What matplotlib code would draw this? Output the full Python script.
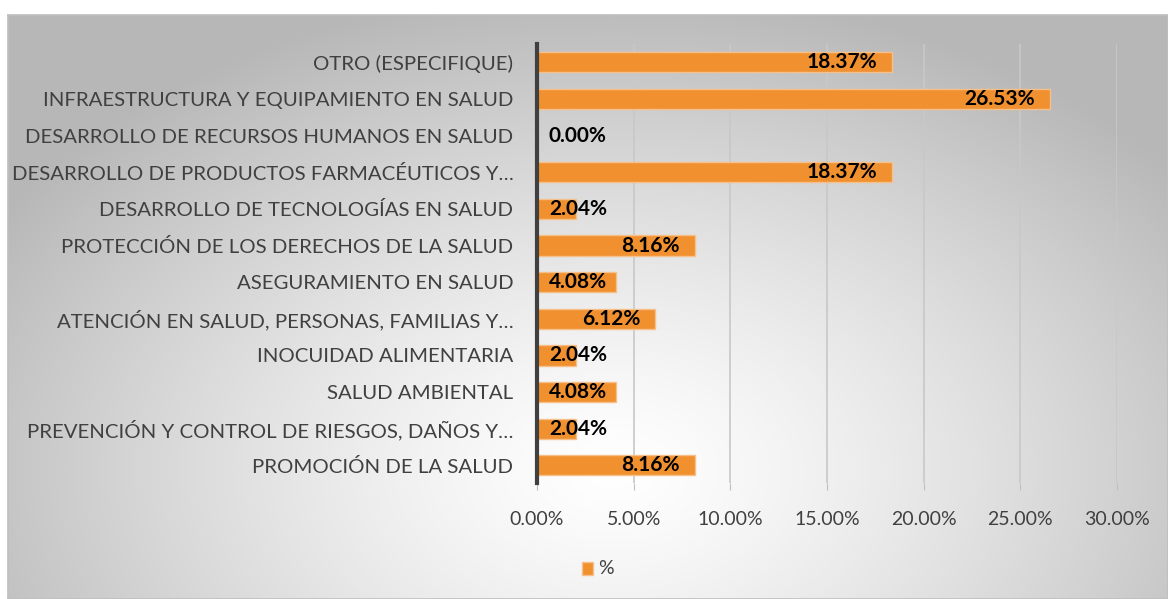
import numpy as np
import matplotlib.pyplot as plt

categorias = ['PROMOCIÓN DE LA SALUD',
              'PREVENCIÓN Y CONTROL DE RIESGOS, DAÑOS Y…',
              'SALUD AMBIENTAL',
              'INOCUIDAD ALIMENTARIA',
              'ATENCIÓN EN SALUD, PERSONAS, FAMILIAS Y…',
              'ASEGURAMIENTO EN SALUD',
              'PROTECCIÓN DE LOS DERECHOS DE LA SALUD',
              'DESARROLLO DE TECNOLOGÍAS EN SALUD',
              'DESARROLLO DE PRODUCTOS FARMACÉUTICOS Y…',
              'DESARROLLO DE RECURSOS HUMANOS EN SALUD',
              'INFRAESTRUCTURA Y EQUIPAMIENTO EN SALUD',
              'OTRO (ESPECIFIQUE)']
valores = [8.16, 2.04, 4.08, 2.04, 6.12, 4.08, 8.16, 2.04, 18.37, 0.00, 26.53, 18.37]
xticks = [0, 5, 10, 15, 20, 25, 30]

plt.rcParams['font.family'] = ['Lato', 'DejaVu Sans']

W, H = 1168, 599
fig = plt.figure(figsize=(W/100, H/100), dpi=100)

# fondo con degradado radial
bg = fig.add_axes([8/W, 0, 1-8/W, 1-15/H])
yy, xx = np.mgrid[0:1:300j, 0:1:600j]
r = np.sqrt(((xx-0.52)*1.0)**2 + ((yy-0.78)*0.75)**2)
g = 1.0 - 0.28*np.clip(r/0.62, 0, 1)**1.3
bg.imshow(np.dstack([g, g, g]), extent=[0, 1, 0, 1], aspect='auto', origin='upper')
bg.set_xticks([]); bg.set_yticks([])
for s in bg.spines.values():
    s.set_color('#bfbfbf')
    s.set_linewidth(1.2)

ax = fig.add_axes([537/W, 1-483/H, (1117-537)/W, (483-44)/H])
ax.patch.set_alpha(0)
y = np.arange(len(categorias))
ax.barh(y, valores, height=0.55, color='#F0902E', edgecolor='#F7C08A', linewidth=1, zorder=3)
ax.set_xlim(0, 30)
ax.set_ylim(-0.48, 11.5)
ax.set_yticks(y)
ax.set_yticklabels(categorias, fontsize=14.7, color='#404040')
ax.set_xticks(xticks)
ax.set_xticklabels(['%.2f%%' % t for t in xticks], fontsize=14, color='#404040')
ax.tick_params(axis='y', length=0, pad=17)
ax.tick_params(axis='x', length=5, color='#bfbfbf', pad=15)
ax.grid(axis='x', color='#c8c8c8', linewidth=1.2, zorder=0)
for s in ['top', 'right', 'bottom']:
    ax.spines[s].set_visible(False)
ax.spines['left'].set_color('#404040')
ax.spines['left'].set_linewidth(3)
ax.spines['left'].set_zorder(5)

for yi, v in zip(y, valores):
    ax.annotate('%.2f%%' % v, xy=(max(v, 4.4), yi), xytext=(-11, 0),
                textcoords='offset points', ha='right', va='center',
                fontsize=15, fontweight='bold', color='black', zorder=6)

# leyenda
fig.patches.append(plt.Rectangle((582/W, 1-575/H), 11/W, 13/H, transform=fig.transFigure,
                                 facecolor='#F0902E', edgecolor='#F7C08A', linewidth=1))
fig.text(598/W, 1-568/H, '%', fontsize=14, color='#404040', va='center', ha='left')

fig.savefig('out.png', dpi=100)
